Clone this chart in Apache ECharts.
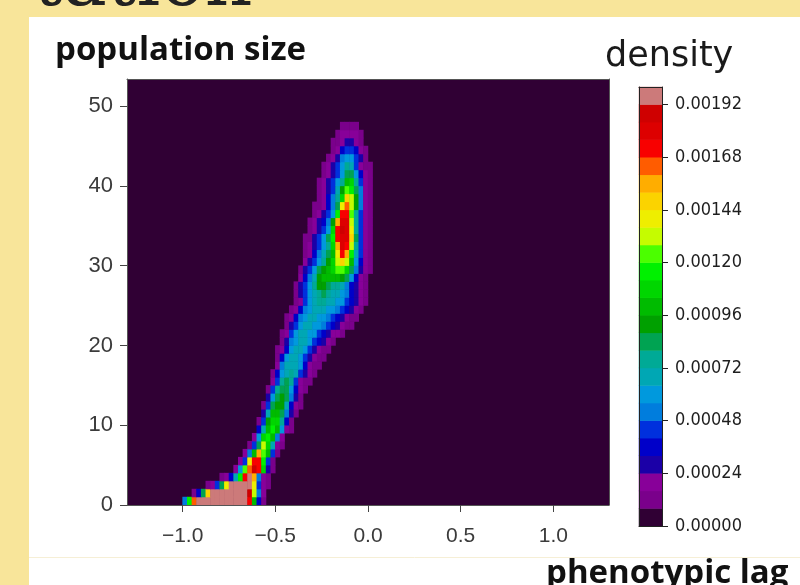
<!DOCTYPE html>
<html><head><meta charset="utf-8">
<script src="https://cdn.jsdelivr.net/npm/echarts@6/dist/echarts.min.js"></script>
<style>html,body{margin:0;padding:0;background:#fff;}#chart{width:800px;height:585px;}</style>
</head><body><div id="chart"></div>
<script>
// ---- axes ----
const X_MIN = -1.3, X_MAX = 1.3;
const Y_MIN = 0, Y_MAX = 53.4;
const xTickValues = [-1.0, -0.5, 0.0, 0.5, 1.0];
const yTickValues = [0, 10, 20, 30, 40, 50];
const cbTickValues = [0, 0.00024, 0.00048, 0.00072, 0.00096, 0.00120, 0.00144, 0.00168, 0.00192];
const CB_MAX = 0.002;
// ---- density levels (25 filled contour bands) ----
const LEVEL_STEP = 0.00008;
const levelColors = ['#300034','#7a008b','#880099','#1b00a7','#0000c9','#0030dd','#007ddd','#0099dd',
  '#00a7b4','#00aa96','#00a352','#00a000','#00bb00','#00d600','#00f100','#4bff00','#c5fc00','#eeee00',
  '#fbd300','#ffad00','#ff5c00','#f80000','#dd0000','#cf0000','#cc7a7a'];
// ---- density grid: cells 0.025 wide (x from -1.3), 1 unit tall (y from 0) ----
const CELL_W = 0.025, CELL_H = 1;
const N_COLS = 104, N_ROWS = 53;
const WIN_COL0 = 8; // window column 0 is x = -1.1
// each row (y = 0,1,2,...): [first window column, band levels]
const densityRows = [
  [4,  [6,14,20, 24,24,24,24,24, 24,24,24,24,24, 24, 21,12,4,1]],
  [6,  [1,4,10,18, 24,24,24,24, 24,24,24,24, 23,16,6,2]],
  [9,  [1,2,5,10,17, 24,24,24,24,24, 17,5,2,1]],
  [12, [1,2,4,8,14,21,24,19,6,2,1]],
  [15, [2,7,15,20,23,21,13,3,1]],
  [16, [2,5,17,21,21,14,5,1]],
  [17, [2,6,12,19,15,12,5,1]],
  [18, [1,5,10,16,13,8,2,1]],
  [19, [2,7,13,14,12,6,2]],
  [20, [4,8,12,14,12,7,2,1]],
  [20, [1,5,11,13,13,9,4,1]],
  [21, [3,8,12,12,10,6,3,1]],
  [21, [1,5,10,11,11,8,4,2,1]],
  [22, [3,7,10,11,10,6,3,1]],
  [22, [1,5,9,10,10,7,4,2,1]],
  [23, [2,5,9,10,9,5,2,1,1]],
  [23, [1,4,7,8,9,8,5,3,2,1]],
  [24, [2,6,8,8,8,7,4,2,1,1]],
  [24, [1,4,7,8,8,7,5,3,2,1,1]],
  [24, [1,2,4,7,8,8,7,5,3,2,1,1]],
  [25, [1,3,6,7,8,8,7,5,4,3,2,1]],
  [25, [1,2,5,7,8,8,7,7,5,4,3,2,2,1]],
  [26, [1,3,5,7,8,8,7,7,6,5,4,3,2,1,1]],
  [26, [1,2,4,6,7,8,8,7,7,6,5,4,3,2,1,1]],
  [27, [1,2,4,6,7,8,8,8,7,7,6,5,4,3,2,1]],
  [28, [1,2,5,7,8,9,9,8,8,7,7,5,4,3,2,1]],
  [28, [1,3,5,7,8,9,10,9,8,8,7,6,4,3,2,1]],
  [28, [1,3,5,7,9,11,11,10,9,9,8,6,4,3,2,1]],
  [29, [2,4,6,8,11,12,12,12,12,11,10,7,4,2,1]],
  [29, [1,3,5,7,10,11,12,13,15,15,13,10,6,3,2,1]],
  [30, [2,3,5,7,9,11,13,16,18,16,12,7,4,2,1]],
  [30, [1,2,4,6,8,10,12,17,21,19,14,8,5,2,1]],
  [30, [1,2,3,5,7,9,13,19,22,21,16,9,5,2,1]],
  [30, [1,1,3,5,7,10,14,21,22,22,18,10,5,2,1]],
  [31, [1,2,3,5,7,13,21,23,22,17,9,5,2,1]],
  [31, [1,2,3,4,6,11,19,22,22,16,9,5,2,1]],
  [32, [1,2,3,5,7,14,21,21,15,9,5,2,1]],
  [32, [1,1,2,4,6,10,17,20,16,11,6,2,1]],
  [33, [1,2,4,6,9,13,18,16,11,6,2,1]],
  [33, [1,2,3,5,8,11,15,14,10,6,2,1]],
  [33, [1,2,3,5,7,9,12,13,9,5,2,1]],
  [34, [1,2,3,5,7,10,10,7,4,2,1]],
  [34, [1,2,3,5,7,9,8,5,2,1,1]],
  [35, [1,2,3,6,7,7,5,3,1]],
  [36, [1,2,4,5,5,4,2,1]],
  [36, [1,1,2,3,3,2,1]],
  [37, [1,2,2,2,2,1]],
  [38, [1,1,1,1]]
];

// ---- build library inputs ----
const heatXCats = [], heatYCats = [];
for (let i = 0; i < N_COLS; i++) heatXCats.push((X_MIN + (i + 0.5) * CELL_W).toFixed(4));
for (let j = 0; j < N_ROWS; j++) heatYCats.push(String(Y_MIN + (j + 0.5) * CELL_H));
const heatData = [];
densityRows.forEach(function (row, r) {
  row[1].forEach(function (lv, k) {
    heatData.push([WIN_COL0 + row[0] + k, r, (lv + 0.5) * LEVEL_STEP]);
  });
});
const cbCats = levelColors.map(function (_, i) { return String(i); });
const cbData = levelColors.map(function (_, i) { return [0, i, (i + 0.5) * LEVEL_STEP]; });
const pieces = levelColors.map(function (c, i) { return { gte: i * LEVEL_STEP, lt: (i + 1) * LEVEL_STEP, color: c }; });

// ---- layout ----
const PLOT = { left: 127, top: 79, width: 482, height: 426 };
const heatHeight = PLOT.height * (N_ROWS * CELL_H) / (Y_MAX - Y_MIN);
const heatTop = PLOT.top + PLOT.height - heatHeight;
const CB = { left: 639, top: 87, width: 23, height: 439 };
const AXIS_FONT = "'Liberation Sans Narrow','Liberation Sans',sans-serif";
const CB_FONT = "'DejaVu Sans Condensed','DejaVu Sans',sans-serif";
const SPINE = '#555555';

const fmtX = function (v) { return (v < 0 ? '\u2212' : '') + Math.abs(v).toFixed(1); };

const chart = echarts.init(document.getElementById('chart'), null, { renderer: 'canvas' });
chart.setOption({
  animation: false,
  backgroundColor: '#ffffff',
  graphic: [
    { type: 'rect', shape: { x: 0, y: 0, width: 800, height: 17 }, style: { fill: '#f8e59a' } },
    { type: 'rect', shape: { x: 0, y: 0, width: 29, height: 585 }, style: { fill: '#f8e59a' } },
    { type: 'line', shape: { x1: 29, y1: 557.5, x2: 800, y2: 557.5 }, style: { stroke: '#f6efd6', lineWidth: 1 } },
    { type: 'text', x: 33, y: -14, style: { text: 'tation', font: "74px 'DejaVu Serif'", fill: '#222222', textAlign: 'left', textVerticalAlign: 'middle' } },
    { type: 'text', x: 55, y: 51, style: { text: 'population size', font: "bold 33px 'Open Sans'", fill: '#111111', textAlign: 'left', textVerticalAlign: 'middle' } },
    { type: 'text', x: 605, y: 57, style: { text: 'density', font: "35px 'DejaVu Sans'", fill: '#1a1a1a', textAlign: 'left', textVerticalAlign: 'middle' } },
    { type: 'text', x: 546, y: 574, style: { text: 'phenotypic lag', font: "bold 33px 'Open Sans'", fill: '#111111', textAlign: 'left', textVerticalAlign: 'middle' } }
  ],
  grid: [
    { left: PLOT.left, top: PLOT.top, width: PLOT.width, height: PLOT.height, show: true, backgroundColor: levelColors[0], borderWidth: 0 },
    { left: PLOT.left, top: heatTop, width: PLOT.width, height: heatHeight, show: false },
    { left: CB.left, top: CB.top, width: CB.width, height: CB.height, show: false }
  ],
  xAxis: [
    { gridIndex: 0, type: 'value', min: X_MIN, max: X_MAX, position: 'bottom', z: 10,
      axisLine: { show: true, onZero: false, lineStyle: { color: SPINE, width: 1 } },
      axisTick: { show: true, customValues: xTickValues, length: 7, lineStyle: { color: '#444' } },
      axisLabel: { customValues: xTickValues, formatter: fmtX, margin: 21, fontSize: 21, fontFamily: AXIS_FONT, color: '#3b3b3b' },
      splitLine: { show: false } },
    { gridIndex: 0, type: 'value', min: X_MIN, max: X_MAX, position: 'top', z: 10,
      axisLine: { show: true, onZero: false, lineStyle: { color: SPINE, width: 1 } },
      axisTick: { show: false }, axisLabel: { show: false }, splitLine: { show: false } },
    { gridIndex: 1, type: 'category', data: heatXCats, show: false },
    { gridIndex: 2, type: 'category', data: ['cb'], position: 'bottom', z: 10,
      axisLine: { show: true, lineStyle: { color: '#222', width: 1 } }, axisTick: { show: false }, axisLabel: { show: false } },
    { gridIndex: 2, type: 'category', data: ['cb'], position: 'top', z: 10,
      axisLine: { show: true, lineStyle: { color: '#222', width: 1 } }, axisTick: { show: false }, axisLabel: { show: false } }
  ],
  yAxis: [
    { gridIndex: 0, type: 'value', min: Y_MIN, max: Y_MAX, position: 'left', z: 10,
      axisLine: { show: true, onZero: false, lineStyle: { color: SPINE, width: 1 } },
      axisTick: { show: true, customValues: yTickValues, length: 7, lineStyle: { color: '#444' } },
      axisLabel: { customValues: yTickValues, margin: 14, fontSize: 22, fontFamily: AXIS_FONT, color: '#3b3b3b' },
      splitLine: { show: false } },
    { gridIndex: 0, type: 'value', min: Y_MIN, max: Y_MAX, position: 'right', z: 10,
      axisLine: { show: true, onZero: false, lineStyle: { color: SPINE, width: 1 } },
      axisTick: { show: false }, axisLabel: { show: false }, splitLine: { show: false } },
    { gridIndex: 1, type: 'category', data: heatYCats, show: false },
    { gridIndex: 2, type: 'category', data: cbCats, position: 'left', z: 10,
      axisLine: { show: true, lineStyle: { color: '#222', width: 1 } }, axisTick: { show: false }, axisLabel: { show: false } },
    { gridIndex: 2, type: 'value', min: 0, max: CB_MAX, position: 'right', z: 10,
      axisLine: { show: true, onZero: false, lineStyle: { color: '#222', width: 1 } },
      axisTick: { show: true, customValues: cbTickValues, length: 6, lineStyle: { color: '#222' } },
      axisLabel: { customValues: cbTickValues, formatter: function (v) { return v.toFixed(5); }, margin: 13, fontSize: 18, fontFamily: CB_FONT, color: '#1e1e1e' },
      splitLine: { show: false } }
  ],
  visualMap: { type: 'piecewise', show: false, dimension: 2, seriesIndex: [0, 1], pieces: pieces },
  series: [
    { type: 'heatmap', xAxisIndex: 2, yAxisIndex: 2, data: heatData, progressive: 0, emphasis: { disabled: true } },
    { type: 'heatmap', xAxisIndex: 3, yAxisIndex: 3, data: cbData, progressive: 0, emphasis: { disabled: true } }
  ]
});
</script></body></html>
